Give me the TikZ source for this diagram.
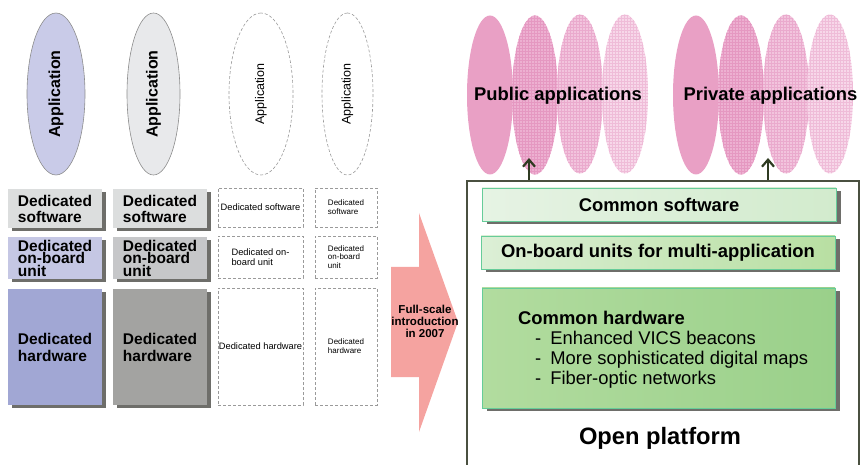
\documentclass[tikz,border=0pt]{standalone}
\usepackage{fontspec}
\setmainfont{Liberation Sans}
\usetikzlibrary{shapes.geometric,shadows,patterns,arrows.meta,positioning}

\begin{document}
\begin{tikzpicture}[x=1pt,y=-1pt,>={Straight Barb[length=7pt,width=12pt]},
    appell/.style={ellipse,draw=EdgeGray,line width=0.6pt,inner sep=0pt,rotate=90,
      minimum width=162pt,font=\fontsize{16}{18}\selectfont\bfseries},
    dashell/.style={appell,draw=DashGray,dash pattern=on 3pt off 2pt,
      font=\fontsize{12.5}{14}\selectfont},
    solidbox/.style={rectangle,inner sep=0pt,align=left,
      drop shadow={shadow xshift=4pt,shadow yshift=-3pt,fill=ShadowGray,opacity=1},
      font=\fontsize{15.5}{16}\selectfont\bfseries},
    dashbox/.style={rectangle,draw=DashGray,dash pattern=on 3pt off 2pt,line width=0.6pt,
      inner sep=0pt,align=left,font=\fontsize{9.3}{10}\selectfont},
    pinkell/.style={ellipse,inner sep=0pt,minimum width=46pt,minimum height=159pt},
    greenbox/.style={rectangle,draw=GreenEdge,line width=0.8pt,inner sep=0pt,
      drop shadow={shadow xshift=5pt,shadow yshift=-3pt,fill=ShadowGray,opacity=1},
      font=\fontsize{18.4}{20}\selectfont\bfseries}]
  %--- Theme colors ---
  \definecolor{LavEll}{HTML}{C9CBE8}      % first application
  \definecolor{GrayEll}{HTML}{E8E9EB}     % second application
  \definecolor{EdgeGray}{HTML}{8C8C8C}
  \definecolor{DashGray}{HTML}{9A9A9A}
  \definecolor{ShadowGray}{HTML}{6E6E6A}
  \definecolor{SoftBox}{HTML}{DCDEDE}     % dedicated software
  \definecolor{LavBox}{HTML}{C5C7E4}
  \definecolor{GrayBox}{HTML}{C6C7C9}
  \definecolor{LavDeep}{HTML}{A1A7D4}     % dedicated hardware
  \definecolor{GrayDeep}{HTML}{A3A3A1}
  \definecolor{PinkA}{HTML}{E9A0C5}
  \definecolor{PinkB}{HTML}{EDB0D1}
  \definecolor{PinkBLine}{HTML}{E598C1}
  \definecolor{PinkC}{HTML}{F2C4DD}
  \definecolor{PinkCLine}{HTML}{EAAACD}
  \definecolor{PinkD}{HTML}{F7D7E9}
  \definecolor{PinkDLine}{HTML}{EFBCD8}
  \definecolor{SoftL}{HTML}{E6F3E4}
  \definecolor{SoftR}{HTML}{D2EBCD}
  \definecolor{BoardL}{HTML}{DCEFD6}
  \definecolor{BoardR}{HTML}{B8DFA2}
  \definecolor{HardL}{HTML}{B2DC9F}
  \definecolor{HardR}{HTML}{9AD08A}
  \definecolor{GreenEdge}{HTML}{66CC99}
  \definecolor{FrameDark}{HTML}{4A5040}
  \definecolor{UpLine}{HTML}{2F3B22}
  \definecolor{ArrowPink}{HTML}{F5A3A0}

  \useasboundingbox (0,0) rectangle (860,465);

  %--- Dedicated systems (left) ---
  \node[appell,fill=LavEll,minimum height=58pt] (app1) at (56,94) {Application};
  \node[appell,fill=GrayEll,minimum height=53pt] (app2) at (153.5,94) {Application};
  \node[dashell,minimum height=64pt] (app3) at (261,94) {Application};
  \node[dashell,minimum height=51pt] (app4) at (347.5,94) {Application};

  \node[solidbox,fill=SoftBox,minimum width=94pt,minimum height=39pt] (sw1) at (55,208.5) {Dedicated\\software};
  \node[solidbox,fill=SoftBox,minimum width=94pt,minimum height=39pt] (sw2) at (160,208.5) {Dedicated\\software};
  \node[dashbox,minimum width=85pt,minimum height=39pt] (sw3) at (260.5,207.5) {Dedicated software};
  \node[dashbox,minimum width=62pt,minimum height=39pt,font=\fontsize{8}{9}\selectfont] (sw4) at (346,207.5) {Dedicated\\software};

  \node[solidbox,fill=LavBox,minimum width=94pt,minimum height=42pt,
    font=\fontsize{15.5}{12.5}\selectfont\bfseries] (obu1) at (55,258) {Dedicated\\on-board\\unit};
  \node[solidbox,fill=GrayBox,minimum width=94pt,minimum height=42pt,
    font=\fontsize{15.5}{12.5}\selectfont\bfseries] (obu2) at (160,258) {Dedicated\\on-board\\unit};
  \node[dashbox,minimum width=85pt,minimum height=42pt] (obu3) at (260.5,257) {Dedicated on-\\board unit};
  \node[dashbox,minimum width=62pt,minimum height=42pt,font=\fontsize{8}{8.5}\selectfont] (obu4) at (346,257) {Dedicated\\on-board\\unit};

  \node[solidbox,fill=LavDeep,minimum width=94pt,minimum height=116pt,
    font=\fontsize{15.5}{17}\selectfont\bfseries] (hw1) at (55,347) {Dedicated\\hardware};
  \node[solidbox,fill=GrayDeep,minimum width=94pt,minimum height=116pt,
    font=\fontsize{15.5}{17}\selectfont\bfseries] (hw2) at (160,347) {Dedicated\\hardware};
  \node[dashbox,minimum width=85pt,minimum height=117pt] (hw3) at (260.5,346.5) {Dedicated hardware};
  \node[dashbox,minimum width=62pt,minimum height=117pt,font=\fontsize{8}{9}\selectfont] (hw4) at (346,346.5) {Dedicated\\hardware};

  %--- Transition arrow ---
  \fill[ArrowPink] (391,267) -- (419,267) -- (419,213) -- (458,322)
    -- (419,432) -- (419,377) -- (391,377) -- cycle;
  \node[align=center,font=\fontsize{11.5}{12}\selectfont\bfseries] (intro) at (425,321)
    {Full-scale\\introduction\\in 2007};

  %--- Applications (right) ---
  \node[pinkell,fill=PinkA] (pub1) at (490,95) {};
  \node[pinkell,fill=PinkB,postaction={pattern=grid,pattern color=PinkBLine}] (pub2) at (535,95) {};
  \node[pinkell,fill=PinkC,postaction={pattern=grid,pattern color=PinkCLine}] (pub3) at (580,94) {};
  \node[pinkell,fill=PinkD,postaction={pattern=grid,pattern color=PinkDLine}] (pub4) at (625,94) {};
  \node[pinkell,fill=PinkA] (prv1) at (696,95) {};
  \node[pinkell,fill=PinkB,postaction={pattern=grid,pattern color=PinkBLine}] (prv2) at (741,95) {};
  \node[pinkell,fill=PinkC,postaction={pattern=grid,pattern color=PinkCLine}] (prv3) at (786,94) {};
  \node[pinkell,fill=PinkD,postaction={pattern=grid,pattern color=PinkDLine}] (prv4) at (830,94) {};
  \node[anchor=base,font=\fontsize{18.4}{20}\selectfont\bfseries] (publabel) at (558,100.5) {Public applications};
  \node[anchor=base,font=\fontsize{18.4}{20}\selectfont\bfseries] (prvlabel) at (770.5,100.5) {Private applications};

  %--- Open platform ---
  \node[draw=FrameDark,line width=1.1pt,minimum width=392pt,minimum height=292pt,inner sep=0pt] (platform) at (663,327) {};
  \node[greenbox,left color=SoftL,right color=SoftR,minimum width=354pt,minimum height=33pt] (csoft) at (659,204.5) {Common software};
  \node[greenbox,left color=BoardL,right color=BoardR,minimum width=354pt,minimum height=33pt] (cobu) at (658,252.5) {On-board units for multi-application};
  \node[greenbox,left color=HardL,right color=HardR,minimum width=353pt,minimum height=120pt] (chw) at (658.5,348) {};
  \node[anchor=north west,align=left,inner sep=0pt,font=\fontsize{18.4}{20}\selectfont]
    (hwlist) at (518,310.5) {\textbf{Common hardware}\\
      \hspace*{17pt}-\hspace{9pt}Enhanced VICS beacons\\
      \hspace*{17pt}-\hspace{9pt}More sophisticated digital maps\\
      \hspace*{17pt}-\hspace{9pt}Fiber-optic networks};
  \node[anchor=base,font=\fontsize{23.7}{26}\selectfont\bfseries] (openlabel) at (660,444) {Open platform};

  %--- Links up to the applications ---
  \coordinate (pubtip) at (529,158);
  \coordinate (prvtip) at (768,158);
  \draw[->,UpLine,line width=2.2pt] (platform.north -| pubtip) -- (pubtip);
  \draw[->,UpLine,line width=2.2pt] (platform.north -| prvtip) -- (prvtip);
\end{tikzpicture}
\end{document}
